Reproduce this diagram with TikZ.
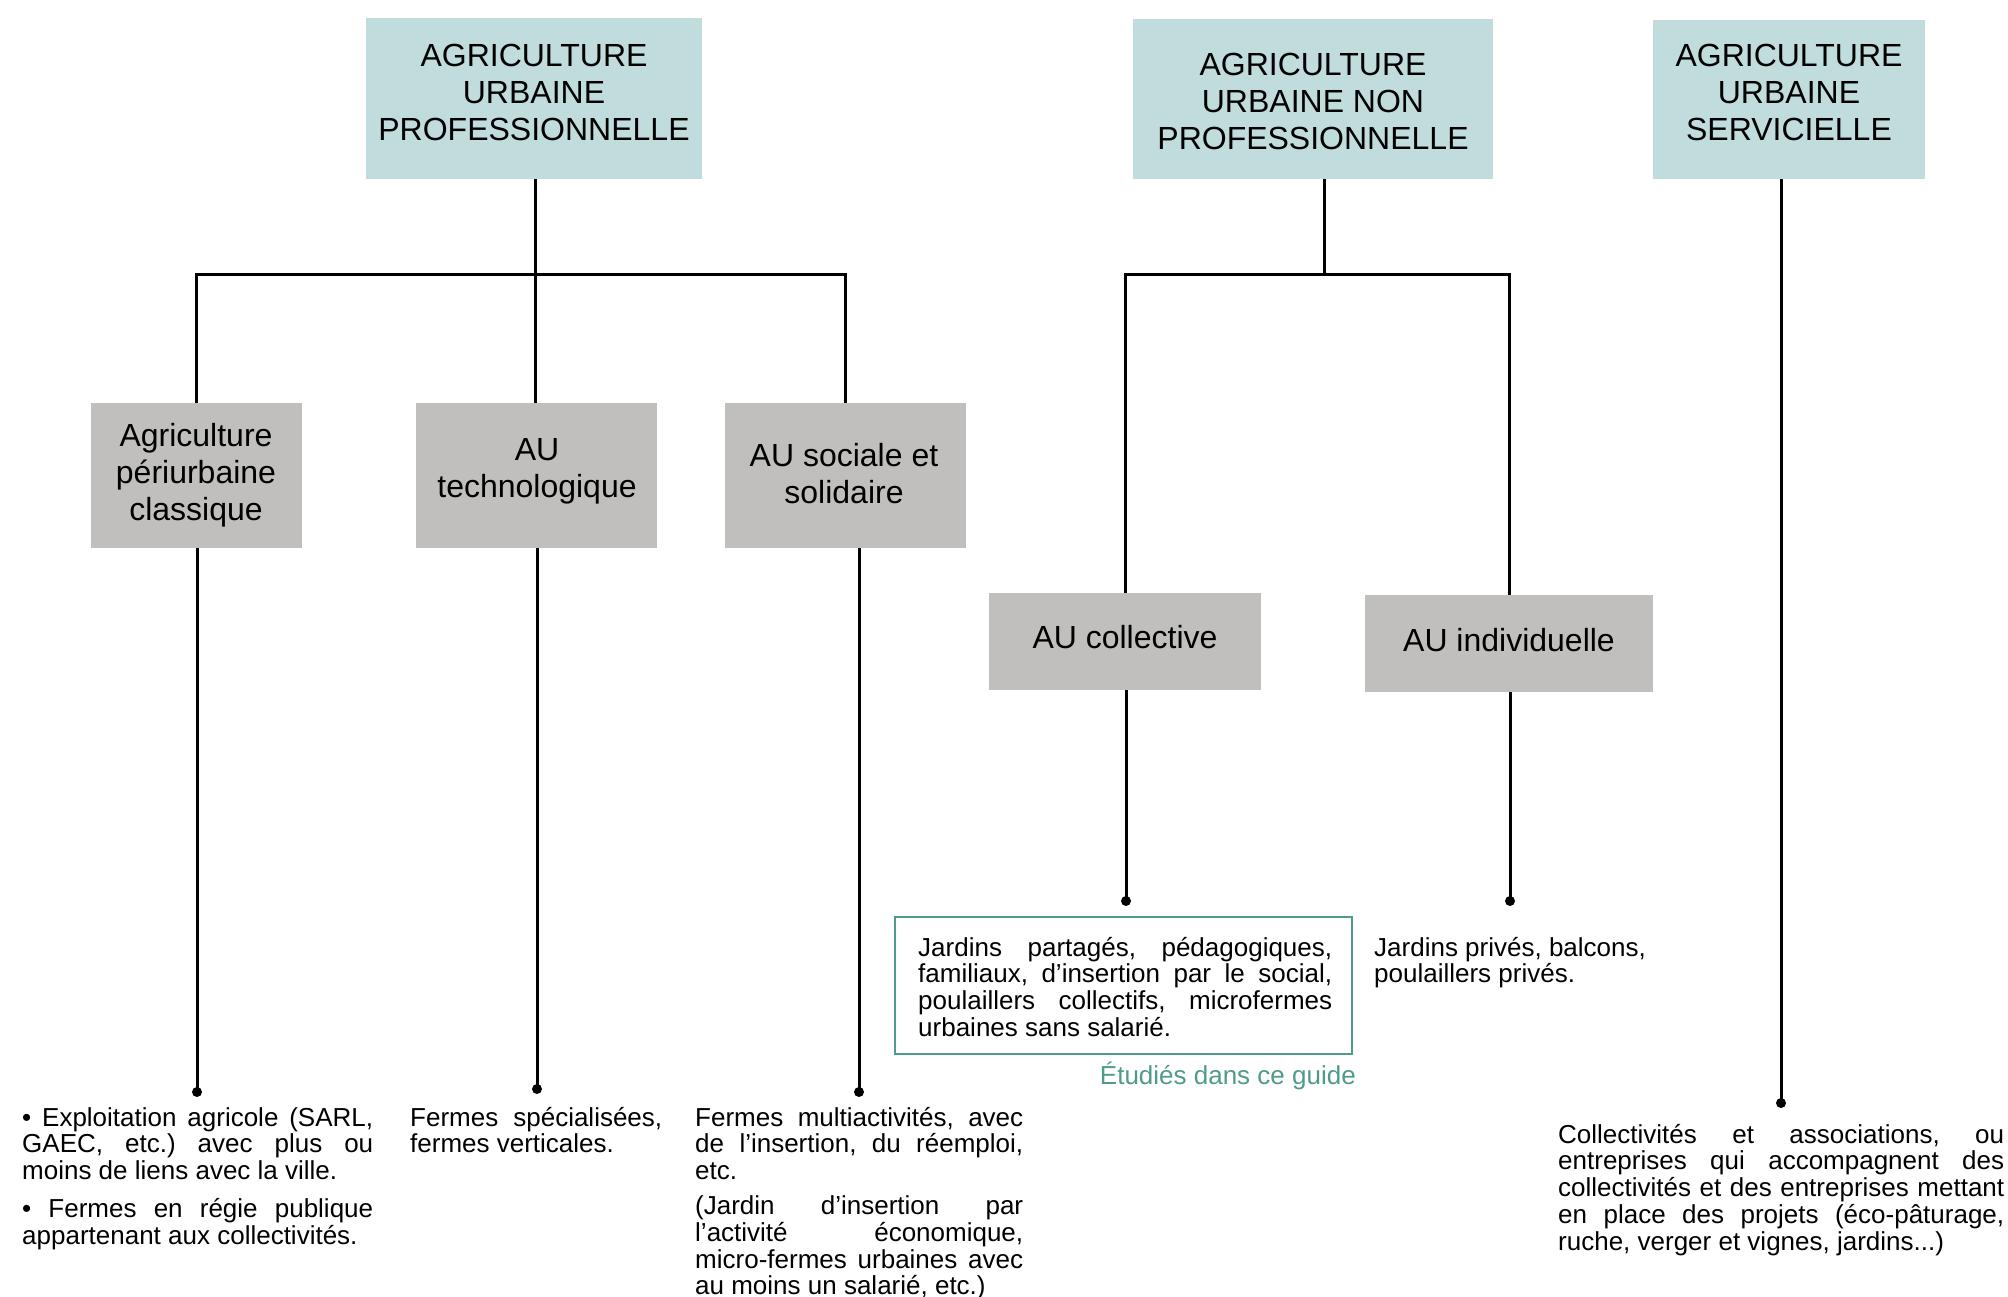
\documentclass[tikz,border=0pt]{standalone}
\usepackage{fontspec}
\setmainfont{Liberation Sans}
\definecolor{catfill}{HTML}{C0DCDD}
\definecolor{subfill}{HTML}{C0BFBD}
\definecolor{guidegreen}{HTML}{4E9A8B}
\newcommand\headfont{\fontsize{32}{37}\selectfont}
\newcommand\bodyfont{\fontsize{26}{26.8}\selectfont\frenchspacing\hyphenpenalty=10000\exhyphenpenalty=10000\tolerance=10000\hbadness=10000}
\tikzset{
  catbox/.style={fill=catfill, draw=none, inner sep=0},
  subbox/.style={fill=subfill, draw=none, inner sep=0},
  head/.style={inner sep=0, align=center, font=\headfont},
  body/.style={anchor=base west, inner sep=0, align=justify, font=\bodyfont},
  stem/.style={line width=3pt, black},
  dot/.style={fill=black}
}
\begin{document}
\begin{tikzpicture}[x=1pt, y=-1pt]
\useasboundingbox (0,0) rectangle (2008,1297);

% category boxes
\node[catbox, minimum width=336, minimum height=161] (B1) at (534,98.5) {};
\node[catbox, minimum width=360, minimum height=160] (B2) at (1313,99) {};
\node[catbox, minimum width=272, minimum height=159] (B3) at (1789,99.5) {};
\node[head] (B1t) at (534,92) {AGRICULTURE\\URBAINE\\PROFESSIONNELLE};
\node[head] (B2t) at (1313,101) {AGRICULTURE\\URBAINE NON\\PROFESSIONNELLE};
\node[head] (B3t) at (1789,92) {AGRICULTURE\\URBAINE\\SERVICIELLE};

% sub-category boxes
\node[subbox, minimum width=211, minimum height=145] (M1) at (196.5,475.5) {};
\node[subbox, minimum width=241, minimum height=145] (M2) at (536.5,475.5) {};
\node[subbox, minimum width=241, minimum height=145] (M3) at (845.5,475.5) {};
\node[subbox, minimum width=272, minimum height=97] (C1) at (1125,641.5) {};
\node[subbox, minimum width=288, minimum height=97] (C2) at (1509,643.5) {};
\node[head] (M1t) at (196,475) {Agriculture\\périurbaine\\classique};
\node[head] (M2t) at (537,471) {AU\\technologique};
\node[head] (M3t) at (844,474) {AU sociale et\\solidaire};
\node[head] (C1t) at (1125,637) {AU collective};
\node[head] (C2t) at (1509,640) {AU individuelle};

% junctions and stem ends
\coordinate (j1) at (535,275);
\coordinate (j2) at (1324,275);
\coordinate (d1) at (197,1092);
\coordinate (d2) at (537,1089);
\coordinate (d3) at (859,1092);
\coordinate (d4) at (1126,901);
\coordinate (d5) at (1510,901);
\coordinate (d6) at (1781,1103);

% professional branch
\draw[stem] (B1.south -| j1) -- (j1);
\draw[stem] (M1.north) -- (M1.north |- j1) -- (M3.north |- j1) -- (M3.north);
\draw[stem] (j1) -- (j1 |- M2.north);
% non-professional branch
\draw[stem] (B2.south -| j2) -- (j2);
\draw[stem] (C1.north) -- (C1.north |- j2) -- (C2.north |- j2) -- (C2.north);

% stems down to the descriptions
\draw[stem] (M1.south -| d1) -- (d1);
\draw[stem] (M2.south -| d2) -- (d2);
\draw[stem] (M3.south -| d3) -- (d3);
\draw[stem] (C1.south -| d4) -- (d4);
\draw[stem] (C2.south -| d5) -- (d5);
\draw[stem] (B3.south -| d6) -- (d6);
\foreach \d in {d1,d2,d3,d4,d5,d6} \fill[dot] (\d) circle (5);

% framed group covered by the guide
\node[draw=guidegreen, line width=2.5pt, inner sep=0, minimum width=457, minimum height=137] (G) at (1123.5,985.5) {};
\node[anchor=base east, inner sep=0, font=\bodyfont, text=guidegreen] (Gl) at (1356,1084) {Étudiés dans ce guide};

% descriptions (justified, with the line breaks fixed)
\node[body, text width=351] (T1) at (22,1126) {%
• Exploitation agricole (SARL,\linebreak
GAEC, etc.) avec plus ou\linebreak
moins de liens avec la ville.\par\vspace{11pt}
• Fermes en régie publique\linebreak
appartenant aux collectivités.};
\node[body, text width=252] (T2) at (410,1126) {%
Fermes spécialisées,\linebreak
fermes verticales.};
\node[body, text width=328] (T3) at (695,1126) {%
Fermes multiactivités, avec\linebreak
de l’insertion, du réemploi,\linebreak
etc.\par\vspace{8pt}
(Jardin d’insertion par\linebreak
l’activité économique,\linebreak
micro-fermes urbaines avec\linebreak
au moins un salarié, etc.)};
\node[body, text width=414] (T4) at (918,956) {%
Jardins partagés, pédagogiques,\linebreak
familiaux, d’insertion par le social,\linebreak
poulaillers collectifs, microfermes\linebreak
urbaines sans salarié.};
\node[body, text width=292] (T5) at (1374,956) {%
Jardins privés, balcons,\\
poulaillers privés.};
\node[body, text width=446] (T6) at (1558,1143) {%
Collectivités et associations, ou\linebreak
entreprises qui accompagnent des\linebreak
collectivités et des entreprises mettant\linebreak
en place des projets (éco-pâturage,\linebreak
ruche, verger et vignes, jardins...)};
\end{tikzpicture}
\end{document}
